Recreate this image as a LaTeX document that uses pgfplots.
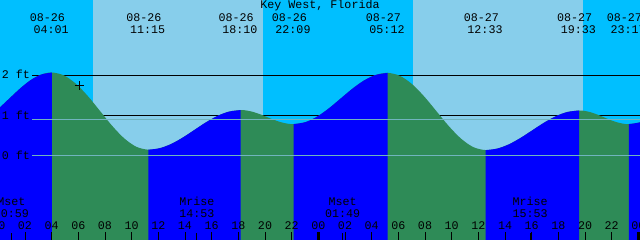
\documentclass[border=0pt]{standalone}
\usepackage{pgfplots}
\pgfplotsset{compat=1.18}
\usepackage{fontspec}
\newfontfamily\mono{Liberation Mono}
\definecolor{night}{RGB}{0,191,255}
\definecolor{day}{RGB}{135,206,235}
\definecolor{tblue}{RGB}{0,0,255}
\definecolor{tgreen}{RGB}{46,139,87}
\definecolor{markc}{RGB}{112,180,190}
\newcommand\fnt{\mono\fontsize{11.67}{12}\selectfont}
\tikzset{lab/.style={font=\fnt, anchor=base, inner sep=0pt, text=black}}
\newcommand\evt[4]{\node[lab] at (axis cs:#1,3.3425) {#3};\node[lab] at (axis cs:#2,3.06) {#4};}
\newcommand\moon[3]{\node[lab] at (axis cs:#1,-1.2575) {#2};\node[lab] at (axis cs:#1,-1.54) {#3};}
\newcommand\tl[2]{\node[lab] at (axis cs:#1,-1.84) {#2};}
\newcommand\mtick[1]{\addplot[black, line width=1pt] coordinates {(#1,-2.3) (#1,-1.9325)};}
\begin{document}
\begin{tikzpicture}
\useasboundingbox (0,0) rectangle (640pt,240pt);
\begin{axis}[at={(0,0)}, anchor=south west, width=640pt, height=240pt, scale only axis,
  xmin=0.125, xmax=48.125, ymin=-2.1075, ymax=3.8925,
  axis line style={draw=none}, axis background/.style={fill=night},
  ytick=\empty, xtick={0,2,...,48}, xticklabels=\empty, xtick pos=left,
  tick align=inside, major tick length=8pt, tick style={black, line width=1pt},
  axis on top=true, clip=true]
% day bands
\addplot[fill=day, draw=none] coordinates {(7.1,-3) (7.1,5) (19.85,5) (19.85,-3)} -- cycle;
\addplot[fill=day, draw=none] coordinates {(31.1,-3) (31.1,5) (43.85,5) (43.85,-3)} -- cycle;
% level lines behind water
\addplot[black, line width=1pt] coordinates {(2.525,2) (49,2)};
\addplot[black, line width=1pt] coordinates {(2.525,1) (49,1)};
% whole water area (falling colour)
\addplot[fill=tgreen, draw=none, smooth] coordinates {
(-0.721,0.987) (0.069,1.195) (0.858,1.44) (1.648,1.685) (2.437,1.893) (3.227,2.031) (4.017,2.08)
(4.921,2.007) (5.825,1.797) (6.730,1.484) (7.634,1.115) (8.538,0.746) (9.442,0.433) (10.346,0.223) (11.25,0.15)
(12.115,0.188) (12.979,0.295) (13.844,0.456) (14.708,0.645) (15.573,0.834) (16.438,0.995) (17.302,1.102) (18.167,1.14)
(18.665,1.127) (19.163,1.089) (19.660,1.032) (20.158,0.965) (20.656,0.898) (21.154,0.841) (21.652,0.803) (22.15,0.79)
(23.031,0.839) (23.913,0.977) (24.794,1.185) (25.675,1.43) (26.556,1.675) (27.438,1.883) (28.319,2.021) (29.2,2.07)
(30.119,1.997) (31.038,1.787) (31.956,1.474) (32.875,1.105) (33.794,0.736) (34.713,0.423) (35.631,0.213) (36.55,0.14)
(37.425,0.178) (38.3,0.285) (39.175,0.446) (40.05,0.635) (40.925,0.824) (41.8,0.985) (42.675,1.092) (43.55,1.13)
(44.017,1.117) (44.483,1.080) (44.95,1.025) (45.417,0.96) (45.883,0.895) (46.35,0.840) (46.817,0.803) (47.283,0.79)
(48.158,0.838) (49.033,0.973)} -- (49.033,-2.5) -- (-0.721,-2.5) -- cycle;
% rising segments
\addplot[fill=tblue, draw=none, smooth] coordinates {
(-0.721,0.987) (0.069,1.195) (0.858,1.44) (1.648,1.685) (2.437,1.893) (3.227,2.031) (4.017,2.08)} -- (4.017,-2.5) -- (-0.721,-2.5) -- cycle;
\addplot[fill=tblue, draw=none, smooth] coordinates {
(11.25,0.15) (12.115,0.188) (12.979,0.295) (13.844,0.456) (14.708,0.645) (15.573,0.834) (16.438,0.995) (17.302,1.102) (18.167,1.14)} -- (18.167,-2.5) -- (11.25,-2.5) -- cycle;
\addplot[fill=tblue, draw=none, smooth] coordinates {
(22.15,0.79) (23.031,0.839) (23.913,0.977) (24.794,1.185) (25.675,1.43) (26.556,1.675) (27.438,1.883) (28.319,2.021) (29.2,2.07)} -- (29.2,-2.5) -- (22.15,-2.5) -- cycle;
\addplot[fill=tblue, draw=none, smooth] coordinates {
(36.55,0.14) (37.425,0.178) (38.3,0.285) (39.175,0.446) (40.05,0.635) (40.925,0.824) (41.8,0.985) (42.675,1.092) (43.55,1.13)} -- (43.55,-2.5) -- (36.55,-2.5) -- cycle;
\addplot[fill=tblue, draw=none, smooth] coordinates {
(47.283,0.79) (48.158,0.838) (49.033,0.973)} -- (49.033,-2.5) -- (47.283,-2.5) -- cycle;
% datum and mean lines on top
\addplot[markc, line width=1pt] coordinates {(2.525,0.8925) (49,0.8925)};
\addplot[markc, line width=1pt] coordinates {(2.525,0) (49,0)};
% current time marker
\addplot[only marks, mark=+, mark size=4.5pt, black, line width=1pt] coordinates {(6.05,1.75)};
% moon and midnight ticks
\mtick{0.983}\mtick{14.883}\mtick{25.817}\mtick{39.883}
\addplot[black, line width=3.3pt] coordinates {(24,-2.3) (24,-1.9075)};
\addplot[black, line width=3.3pt] coordinates {(48,-2.3) (48,-1.9075)};
% texts
\node[lab] at (axis cs:24.125,3.6675) {Key West, Florida};
\evt{3.687}{3.967}{08-26}{04:01}
\evt{10.92}{11.2}{08-26}{11:15}
\evt{17.837}{18.117}{08-26}{18:10}
\evt{21.82}{22.1}{08-26}{22:09}
\evt{28.87}{29.15}{08-27}{05:12}
\evt{36.22}{36.5}{08-27}{12:33}
\evt{43.22}{43.5}{08-27}{19:33}
\evt{46.953}{47.233}{08-27}{23:17}
\moon{0.983}{Mset}{00:59}
\moon{14.883}{Mrise}{14:53}
\moon{25.817}{Mset}{01:49}
\moon{39.883}{Mrise}{15:53}
\node[lab, anchor=base west] at (axis cs:0.25,1.935) {2 ft};
\node[lab, anchor=base west] at (axis cs:0.25,0.91) {1 ft};
\node[lab, anchor=base west] at (axis cs:0.25,-0.09) {0 ft};
\tl{0}{00}\tl{2}{02}\tl{4}{04}\tl{6}{06}\tl{8}{08}\tl{10}{10}\tl{12}{12}
\tl{14}{14}\tl{16}{16}\tl{18}{18}\tl{20}{20}\tl{22}{22}\tl{24}{00}
\tl{26}{02}\tl{28}{04}\tl{30}{06}\tl{32}{08}\tl{34}{10}\tl{36}{12}
\tl{38}{14}\tl{40}{16}\tl{42}{18}\tl{44}{20}\tl{46}{22}\tl{48}{00}
\end{axis}
\end{tikzpicture}
\end{document}
